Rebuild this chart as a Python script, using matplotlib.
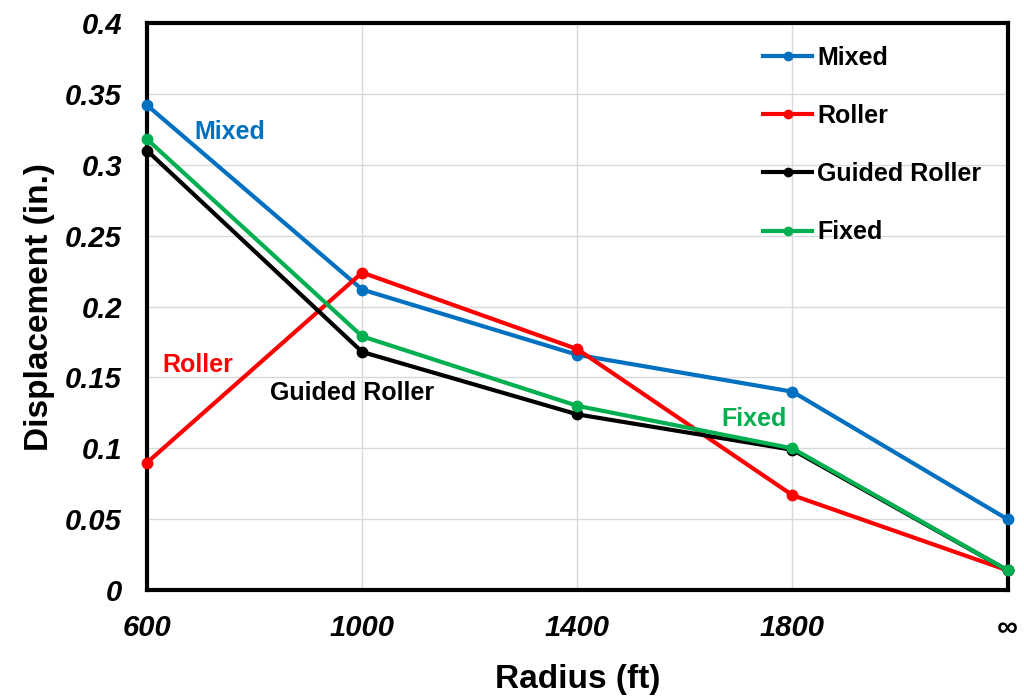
import matplotlib.pyplot as plt

plt.rcParams['font.family'] = ['Liberation Sans', 'DejaVu Sans']

radius = ['600', '1000', '1400', '1800', '∞']
mixed = [0.342, 0.212, 0.166, 0.140, 0.050]
roller = [0.090, 0.224, 0.170, 0.067, 0.014]
guided = [0.310, 0.168, 0.124, 0.099, 0.014]
fixed = [0.318, 0.179, 0.130, 0.100, 0.014]

blue = '#0070C0'
red = '#FF0000'
green = '#00B050'

fig = plt.figure(figsize=(10.24, 6.96), dpi=100)
ax = fig.add_axes([0.1436, 0.152, 0.8404, 0.815])

x = list(range(len(radius)))
ax.plot(x, mixed, color=blue, lw=3, marker='o', ms=7.5, label='Mixed', clip_on=False, zorder=3)
ax.plot(x, roller, color=red, lw=3, marker='o', ms=7.5, label='Roller', clip_on=False, zorder=3)
ax.plot(x, guided, color='black', lw=3, marker='o', ms=7.5, label='Guided Roller', clip_on=False, zorder=3)
ax.plot(x, fixed, color=green, lw=3, marker='o', ms=7.5, label='Fixed', clip_on=False, zorder=4)

ax.set_xlim(0, 4)
ax.set_ylim(0, 0.4)
ax.set_xticks(x)
ax.set_xticklabels(radius)
ax.set_yticks([0, 0.05, 0.1, 0.15, 0.2, 0.25, 0.3, 0.35, 0.4])
ax.set_yticklabels(['0', '0.05', '0.1', '0.15', '0.2', '0.25', '0.3', '0.35', '0.4'])
ax.tick_params(length=0, labelsize=21)
ax.tick_params(axis='x', pad=17)
ax.tick_params(axis='y', pad=18)
for t in ax.get_xticklabels() + ax.get_yticklabels():
    t.set_fontweight('bold')
    t.set_fontstyle('italic')

ax.grid(color='#d9d9d9', lw=1)
ax.set_axisbelow(True)
for s in ax.spines.values():
    s.set_linewidth(3)
    s.set_color('black')

ax.set_xlabel('Radius (ft)', fontsize=24, fontweight='bold', labelpad=16)
ax.set_ylabel('Displacement (in.)', fontsize=24, fontweight='bold', labelpad=7)

ax.text(0.386, 0.323, 'Mixed', color=blue, fontsize=18, fontweight='bold', ha='center', va='center')
ax.text(0.237, 0.159, 'Roller', color=red, fontsize=18, fontweight='bold', ha='center', va='center')
ax.text(0.952, 0.139, 'Guided Roller', color='black', fontsize=18, fontweight='bold', ha='center', va='center')
ax.text(2.82, 0.121, 'Fixed', color=green, fontsize=18, fontweight='bold', ha='center', va='center')

leg = ax.legend(loc='upper left', bbox_to_anchor=(0.716, 0.96), frameon=False,
                prop={'weight': 'bold', 'size': 18}, labelspacing=1.37,
                handlelength=1.95, handletextpad=0.2, markerscale=0.8,
                borderpad=0, borderaxespad=0)

fig.savefig('out.png', dpi=100)
